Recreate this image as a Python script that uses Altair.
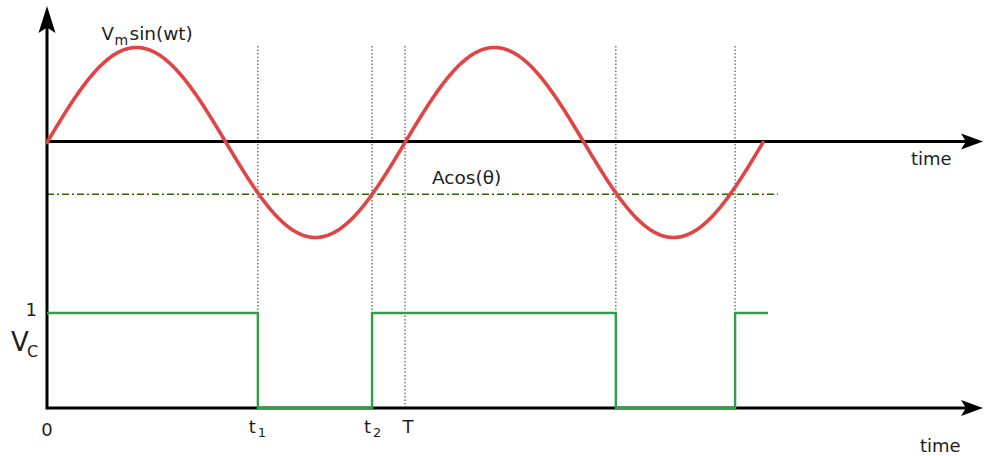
import altair as alt
import pandas as pd

# ---- signal parameters (time in units of the period T) ----
period = 1.0            # T
vm = 1.0                # sine amplitude
threshold = -0.545      # Acos(theta) level, relative to Vm
cycles = 2

# instants where the sine crosses the threshold: t1, t2, T+t1, T+t2
switch_times = [0.589, 0.908, 1.589, 1.922]
t1, t2 = switch_times[0], switch_times[1]
vc_end = 2.014

# comparator output Vc: switching instants and levels
vc_times = [0, switch_times[0], switch_times[0], switch_times[1], switch_times[1],
            switch_times[2], switch_times[2], switch_times[3], switch_times[3], vc_end]
vc_levels = [1, 1, 0, 0, 1, 1, 0, 0, 1, 1]

# dotted guide lines
guide_times = [switch_times[0], switch_times[1], period, switch_times[2], switch_times[3]]

# ---- layout ----
W, H = 985, 456
X0_PX, T_PX = 47, 358          # pixel of t=0 and pixels per period
Y0_PX, UNIT_PX = 408, 95       # pixel of Vc=0 and pixels per unit
AXIS_BASE = (Y0_PX - 141.5) / UNIT_PX   # upper time axis
SINE_BASE = (Y0_PX - 142.5) / UNIT_PX   # sine wave zero line

x_dom = [-X0_PX / T_PX, (W - X0_PX) / T_PX]
y_dom = [-(H - Y0_PX) / UNIT_PX, Y0_PX / UNIT_PX]
xs = alt.Scale(domain=x_dom, nice=False, zero=False)
ys = alt.Scale(domain=y_dom, nice=False, zero=False)

X_TIP = (983 - X0_PX) / T_PX   # horizontal arrow tips
Y_TIP = (Y0_PX - 6) / UNIT_PX  # vertical arrow tip
GUIDE_TOP = (Y0_PX - 45) / UNIT_PX
LEVEL_END = (778 - X0_PX) / T_PX

def X(field):
    return alt.X(field, type="quantitative", scale=xs, axis=None)

def Y(field):
    return alt.Y(field, type="quantitative", scale=ys, axis=None)

FONT = "DejaVu Sans"
INK = "#1e1e1e"

# sine wave Vm sin(wt)
sine = (
    alt.Chart(alt.sequence(0, cycles * period + 0.0005, 0.002, as_="t"))
    .transform_calculate(v=f"{SINE_BASE} + {vm} * sin(2 * PI * datum.t / {period})")
    .mark_line(color="#e04444", strokeWidth=3.6, strokeCap="round")
    .encode(x=X("t"), y=Y("v"), order="t:Q")
)

# comparator output
vc_df = pd.DataFrame({"t": vc_times, "v": vc_levels, "i": range(len(vc_times))})
square = alt.Chart(vc_df).mark_line(color="#2f9e46", strokeWidth=2.4).encode(
    x=X("t"), y=Y("v"), order="i:Q"
)

# threshold line Acos(theta)
level_df = pd.DataFrame({"t": [0], "t2": [LEVEL_END], "v": [SINE_BASE + threshold]})
level = alt.Chart(level_df).mark_rule(
    color="#355f0c", strokeWidth=1.5, strokeDash=[7, 3, 2, 3]
).encode(x=X("t"), x2="t2", y=Y("v"))

# dotted vertical guides
guide_df = pd.DataFrame({"t": guide_times, "y1": 0.0, "y2": GUIDE_TOP})
guides = alt.Chart(guide_df).mark_rule(
    color="#444444", strokeWidth=1.1, strokeDash=[1.5, 2]
).encode(x=X("t"), y=Y("y1"), y2="y2")

# axes lines
h_axes_df = pd.DataFrame({"x1": [0, 0], "x2": [X_TIP - 0.03, X_TIP - 0.03], "v": [AXIS_BASE, 0]})
h_axes = alt.Chart(h_axes_df).mark_rule(color="black", strokeWidth=3).encode(
    x=X("x1"), x2="x2", y=Y("v")
)
v_axis_df = pd.DataFrame({"t": [0], "y1": [-0.015], "y2": [Y_TIP - 0.2]})
v_axis = alt.Chart(v_axis_df).mark_rule(color="black", strokeWidth=3).encode(
    x=X("t"), y=Y("y1"), y2="y2"
)

# arrow heads (tip at the symbol origin)
right_head = "M0,0 L-2,-0.72 L-1.55,0 L-2,0.72 Z"
up_head = "M0,0 L-0.63,2 L0,1.6 L0.63,2 Z"
rh_df = pd.DataFrame({"t": [X_TIP, X_TIP], "v": [AXIS_BASE, 0]})
r_heads = alt.Chart(rh_df).mark_point(
    shape=right_head, filled=True, color="black", opacity=1, size=484, strokeWidth=0
).encode(x=X("t"), y=Y("v"))
uh_df = pd.DataFrame({"t": [0], "v": [Y_TIP]})
u_head = alt.Chart(uh_df).mark_point(
    shape=up_head, filled=True, color="black", opacity=1, size=729, strokeWidth=0
).encode(x=X("t"), y=Y("v"))

# ---- labels ----
def label(text, x, y, size=18, align="left", dx=0, dy=0):
    df = pd.DataFrame({"x": [x], "y": [y], "s": [text]})
    return alt.Chart(df).mark_text(
        font=FONT, fontSize=size, align=align, baseline="alphabetic",
        dx=dx, dy=dy, color=INK
    ).encode(x=X("x"), y=Y("y"), text="s:N")

peak_t = period / 4
peak_v = SINE_BASE + vm
labels = [
    # Vm sin(wt)
    label("V", peak_t, peak_v, 18, dx=-35, dy=-8),
    label("m", peak_t, peak_v, 14, dx=-22, dy=-3),
    label("sin(wt)", peak_t, peak_v, 18.5, dx=-7, dy=-8),
    # Acos(theta)
    label("Acos(θ)", period, SINE_BASE + threshold, 18.5, dx=27, dy=-10),
    # time axes
    label("time", X_TIP, AXIS_BASE, 18, dx=-72, dy=23),
    label("time", X_TIP, 0, 18, dx=-63, dy=44),
    # time ticks
    label("0", 0, 0, 18, align="center", dy=28),
    label("t", t1, 0, 18, dx=-9, dy=25),
    label("1", t1, 0, 13, dx=0, dy=29),
    label("t", t2, 0, 18, dx=-8, dy=25),
    label("2", t2, 0, 13, dx=1, dy=29),
    label("T", period, 0, 18, align="center", dx=3, dy=25),
    # Vc axis
    label("1", 0, 1, 18, align="right", dx=-10, dy=3),
    label("V", 0, 1, 26, dx=-36, dy=38),
    label("C", 0, 1, 16, dx=-20, dy=44),
]

chart = alt.layer(
    guides, level, h_axes, v_axis, square, sine, r_heads, u_head, *labels
).properties(
    width=W, height=H, autosize=alt.AutoSizeParams(type="none"), padding=0,
    background="white"
).configure_view(stroke="transparent")

chart.save("out.html", embed_options={"renderer": "svg", "actions": False})
